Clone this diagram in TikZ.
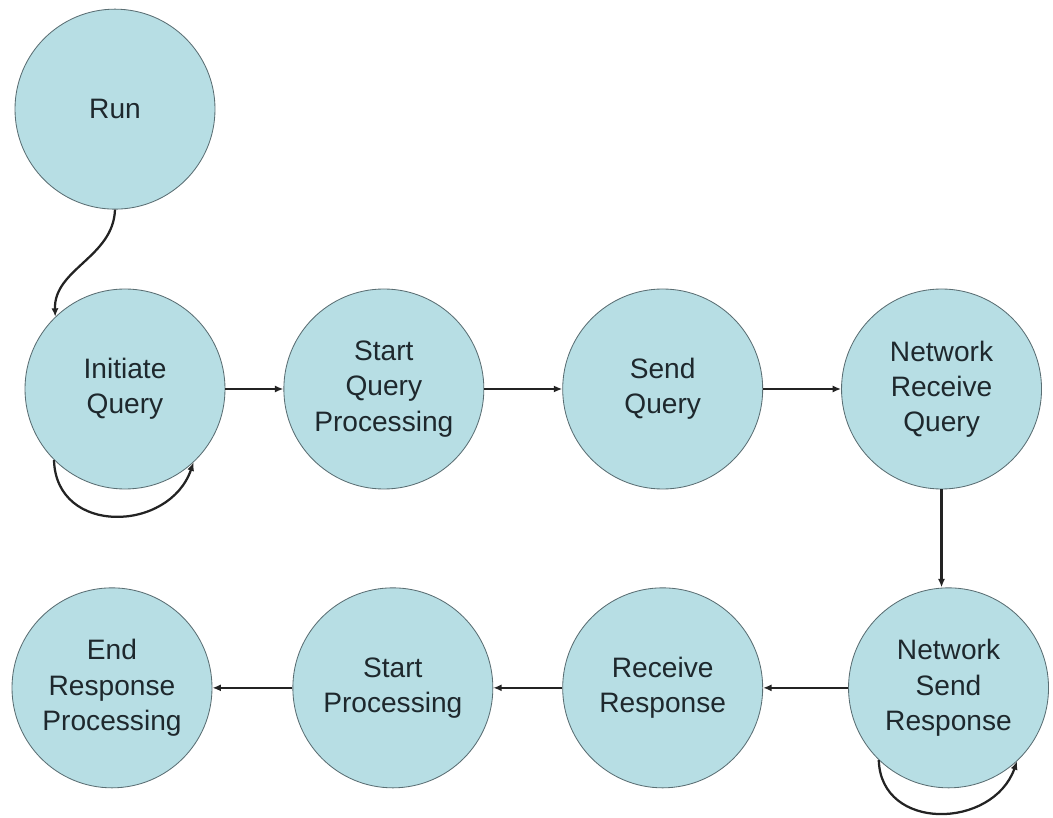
\documentclass[tikz,border=0pt]{standalone}
\usepackage{fontspec}
\setmainfont{Liberation Sans}
\usepackage{tikz}
\usetikzlibrary{arrows.meta}
\usetikzlibrary{positioning}
\definecolor{bubblefill}{RGB}{183,222,228}
\definecolor{bubbleline}{RGB}{90,110,115}
\definecolor{bubbletext}{RGB}{30,40,45}
\definecolor{flowline}{RGB}{35,35,35}

\begin{document}
\begin{tikzpicture}[
    bubble/.style={circle, draw=bubbleline, line width=0.6pt, fill=bubblefill,
        minimum size=5cm, inner sep=0pt, align=center, text=bubbletext,
        font=\fontsize{20}{25}\selectfont},
    flow/.style={draw=flowline, line width=1.6pt, -{Latex[length=6pt,width=5pt]}}
    ]
    \useasboundingbox (0,0) rectangle (26.325,-20.45);

    % query side
    \node[bubble] (iq) at (3.125,-9.725) {Initiate\\Query};
    \node[bubble, above=1.975cm of iq, xshift=-0.25cm] (run) {Run};
    \node[bubble, right=1.45cm of iq] (sqp) {Start\\Query\\Processing};
    \node[bubble, right=1.95cm of sqp] (sq) {Send\\Query};
    \node[bubble, right=1.95cm of sq] (nrq) {Network\\Receive\\Query};

    % response side
    \node[bubble, below=2.45cm of nrq, xshift=0.175cm] (nsr) {Network\\Send\\Response};
    \node[bubble, left=2.125cm of nsr] (rr) {Receive\\Response};
    \node[bubble, left=1.725cm of rr] (sp) {Start\\Processing};
    \node[bubble, left=2cm of sp] (erp) {End\\Response\\Processing};

    \draw[flow] (run.south) to[out=-92, in=92] (iq.134);
    \draw[flow] (iq.225) .. controls +(0.05,-1.9) and +(-0.6,-1.75) .. (iq.313); % retry
    \draw[flow] (iq) -- (sqp);
    \draw[flow] (sqp) -- (sq);
    \draw[flow] (sq) -- (nrq);
    \draw[flow] (nrq.south) -- (nrq.south |- nsr.north);
    \draw[flow] (nsr.226) .. controls +(0.05,-1.8) and +(-0.6,-1.7) .. (nsr.313); % retry
    \draw[flow] (nsr) -- (rr);
    \draw[flow] (rr) -- (sp);
    \draw[flow] (sp) -- (erp);
\end{tikzpicture}
\end{document}
